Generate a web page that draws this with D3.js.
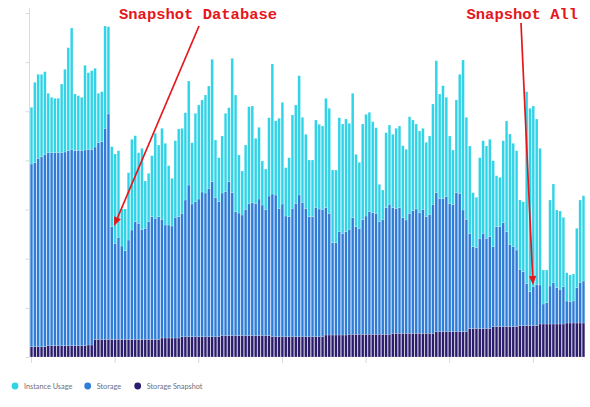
<!DOCTYPE html>
<html>
<head>
<meta charset="utf-8">
<script src="https://cdn.jsdelivr.net/npm/d3@7"></script>
<style>
  body { margin: 0; background: #fff; }
  svg { display: block; }
</style>
</head>
<body>
<svg id="chart" width="590" height="407"></svg>
<script>
// Daily cost, three stacked components (units are the chart's own, 7 gridline steps)
const snapshot = [
  10.3, 10.3, 10.3, 10.3, 10.3, 11.3, 11.3, 11.3, 11.3, 11.3,
  11.3, 11.3, 11.3, 11.3, 11.3, 11.3, 11.3, 12, 12, 17.6,
  17.6, 17.6, 17.6, 17.6, 17.6, 17.6, 17.6, 17.6, 17.6, 17.6,
  17.6, 17.6, 17.6, 17.6, 17.6, 17.6, 17.6, 17.6, 17.6, 19,
  19, 19, 19, 19, 19, 20.3, 20.3, 20.3, 20.3, 20.3,
  20.3, 20.3, 20.3, 20.3, 20.3, 20.3, 20.3, 21.5, 21.5, 21.5,
  21.5, 21.5, 21.5, 21.5, 21.5, 21.5, 21.5, 21.5, 21.5, 21.5,
  21.5, 21.5, 20.3, 20.3, 20.3, 20.3, 20.3, 20.3, 20.3, 20.3,
  20.3, 20.3, 20.3, 20.3, 20.3, 20.3, 20.3, 20.3, 22, 22,
  22, 22, 22, 22, 22, 22.7, 22.7, 22.7, 22.7, 22.7,
  22.7, 22.7, 22.7, 22.7, 22.7, 22.7, 22.7, 22.7, 23.7, 23.7,
  23.7, 23.7, 23.7, 23.7, 23.7, 23.7, 23.7, 23.7, 23.7, 23.7,
  23.7, 25.3, 25.3, 25.3, 25.3, 25.3, 25.3, 25.3, 25.3, 25.3,
  25.3, 28.5, 28.5, 28.5, 28.5, 28.5, 28.5, 28.5, 30.5, 30.5,
  30.5, 30.5, 30.5, 30.5, 30.5, 30.5, 31.5, 31.5, 31.5, 31.5,
  31.5, 31.5, 33, 33, 33, 33, 33, 33, 33, 33,
  34, 34, 34, 34, 34, 34
];

const storage = [
  182.7, 184, 188.4, 190, 192.4, 193, 193, 193, 193, 193,
  193.7, 195, 196.4, 195, 195.4, 195.4, 195.7, 195.3, 195.7, 192.4,
  196.7, 197.7, 211.1, 225.4, 112.7, 96.1, 102.1, 93.4, 88.7, 99.4,
  109.4, 117.7, 116.1, 110.1, 111.1, 117.7, 122.7, 121.1, 122.7, 118.7,
  113, 113, 112, 120.7, 121.3, 123.4, 136.7, 151.7, 132.7, 135,
  137.7, 144.7, 143.7, 148.4, 155, 139.4, 135, 142.5, 143.8, 153.8,
  142.8, 123.8, 122.5, 120.5, 126.2, 132.2, 132.8, 132.2, 136.5, 130.5,
  126.2, 139.5, 142.7, 141.7, 128.4, 132.7, 120.7, 120, 128.4, 133.4,
  141.7, 134, 128.4, 120, 120, 129.4, 127.7, 127.4, 127.3, 121.7,
  92.3, 92.3, 103.3, 101.7, 103.3, 105, 116.6, 107.6, 106, 115,
  118.3, 122.6, 121.6, 121, 112.6, 115, 126.6, 130, 125.6, 125,
  125.6, 115.6, 113.3, 120, 122.6, 124.3, 120.6, 124, 116.6, 119,
  129, 139, 133.4, 133.4, 135, 128.4, 127.4, 139, 138.4, 121.7,
  112.4, 95.2, 81.8, 80.8, 90.2, 95.2, 90.2, 91.8, 79.8, 99.8,
  99.8, 103.8, 94.8, 82.2, 79.8, 76.5, 56.2, 53.8, 42.2, 33.8,
  38.8, 41.2, 39, 20, 21.3, 38, 41.3, 36.3, 34.7, 37.3,
  22, 21.3, 22, 35.3, 40.7, 42
];

const instanceUsage = [
  56.7, 80.4, 84, 82.4, 82.6, 59.4, 55.4, 54.4, 54.4, 68.7,
  82.7, 103, 121.3, 56.7, 54.6, 53, 84.7, 77, 78.6, 78.7,
  49.4, 50, 102.3, 87.3, 80, 89.3, 86.6, 37, 41.7, 67.3,
  90.7, 86, 70.6, 81, 47.3, 48.4, 61, 85, 71.7, 91,
  81.7, 59.3, 47.7, 76.6, 87.7, 85, 87.3, 104, 61.3, 88.4,
  94, 92, 98, 102.3, 122.4, 57.3, 44, 57, 78.4, 74,
  134.4, 116.7, 58, 44, 64.3, 96.6, 96.7, 65, 71.7, 44,
  40.3, 78.3, 130, 74.3, 90, 101.7, 48.3, 59, 93.3, 98.3,
  119.3, 85.4, 74, 56.7, 56.7, 87.3, 84.7, 83.3, 109.4, 105,
  72.7, 72.7, 114, 109.3, 112.7, 106, 124.4, 72.4, 66, 95.3,
  101.7, 99.4, 91, 85.6, 37.4, 29.3, 75, 79.3, 73.4, 80,
  81.7, 72, 70.7, 96.6, 90.7, 85, 81.7, 81, 74.4, 78.3,
  100.3, 132, 104.3, 112.6, 99.4, 67.3, 54.3, 92.7, 119, 150,
  102, 87.3, 54, 50.4, 80.6, 92.6, 92.3, 97.4, 86, 51,
  49.4, 82, 110.7, 110.3, 103.4, 99.3, 69.3, 70, 191.6, 183.4,
  180.7, 165.3, 136.7, 34, 32.7, 86, 98.7, 77.7, 78.3, 69.4,
  28.3, 26.7, 27, 59.4, 82.3, 85.3
];

const seriesKeys = ['snapshot', 'storage', 'instance'];
const seriesNames = ['Instance Usage', 'Storage', 'Storage Snapshot'];
const seriesColors = { instance: '#31d3e7', storage: '#2f7dd8', snapshot: '#2c1d6c' };
const yTicks = [0, 1, 2, 3, 4, 5, 6, 7];
const xTickEvery = 25;

// Build rows for d3.stack
const days = d3.range(snapshot.length);
const rows = days.map(i => ({
  day: i,
  snapshot: snapshot[i],
  storage: storage[i],
  instance: instanceUsage[i]
}));

const svg = d3.select('#chart');
const margin = { top: 13, right: 5, bottom: 50, left: 30 };
const width = 590;
const height = 407;

const x = d3.scaleBand()
  .domain(days)
  .range([margin.left, 585])
  .paddingInner(0.2)
  .paddingOuter(0.05);

// one gridline step is 49.14px, top step at y=13
const step = 344 / 7;
const y = d3.scaleLinear()
  .domain([0, 344])
  .range([357, 13]);

// Axes
const yAxis = svg.append('g')
  .attr('transform', `translate(${margin.left - 0.5},0)`)
  .call(d3.axisLeft(y).tickValues(yTicks.map(t => t * step)).tickSize(4).tickFormat(''));
yAxis.select('.domain').attr('stroke', '#d3dbe4').attr('d', 'M0,8V357');
yAxis.selectAll('.tick line').attr('stroke', '#d3dbe4');

const xAxis = svg.append('g')
  .attr('transform', 'translate(0,357)')
  .call(d3.axisBottom(x).tickValues(days.filter(d => d % xTickEvery === 0)).tickSize(6).tickFormat(''));
xAxis.select('.domain').remove();
xAxis.selectAll('.tick line').attr('stroke', '#d3dbe4');

// Stacked bars
const stacked = d3.stack().keys(seriesKeys)(rows);

svg.append('g')
  .selectAll('g')
  .data(stacked)
  .join('g')
  .attr('fill', d => seriesColors[d.key])
  .selectAll('rect')
  .data(d => d)
  .join('rect')
  .attr('x', d => x(d.data.day))
  .attr('width', x.bandwidth())
  .attr('y', d => y(d[1]))
  .attr('height', d => y(d[0]) - y(d[1]))
  .attr('stroke', '#ffffff')
  .attr('stroke-opacity', 0.55)
  .attr('stroke-width', 0.35);

// Annotations
const red = '#e5161c';
const notes = [
  { text: 'Snapshot Database', tx: 119, ty: 19, from: [199, 26], to: [114, 226] },
  { text: 'Snapshot All', tx: 466.5, ty: 19, from: [521, 23], to: [533, 285] }
];

const ann = svg.append('g');
notes.forEach(n => {
  ann.append('text')
    .attr('x', n.tx)
    .attr('y', n.ty)
    .attr('fill', red)
    .attr('font-family', '"Liberation Mono", "DejaVu Sans Mono", monospace')
    .attr('font-weight', 'bold')
    .attr('font-size', '15.5px')
    .text(n.text);

  const [x1, y1] = n.from;
  const [x2, y2] = n.to;
  const ang = Math.atan2(y2 - y1, x2 - x1);
  const headLen = 9, headW = 3.6;
  const bx = x2 - headLen * Math.cos(ang);
  const by = y2 - headLen * Math.sin(ang);

  ann.append('line')
    .attr('x1', x1).attr('y1', y1)
    .attr('x2', bx).attr('y2', by)
    .attr('stroke', red)
    .attr('stroke-width', 1.7);

  ann.append('path')
    .attr('fill', red)
    .attr('d', `M${x2},${y2}` +
      `L${bx + headW * Math.sin(ang)},${by - headW * Math.cos(ang)}` +
      `L${bx - headW * Math.sin(ang)},${by + headW * Math.cos(ang)}Z`);
});

// Legend
const legendX = [15, 87.7, 137.7];
const legendKeys = ['instance', 'storage', 'snapshot'];
const legend = svg.append('g').attr('transform', 'translate(0,386)');

legendKeys.forEach((k, i) => {
  legend.append('circle')
    .attr('cx', legendX[i])
    .attr('cy', 0)
    .attr('r', 3.4)
    .attr('fill', seriesColors[k]);
  legend.append('text')
    .attr('x', legendX[i] + 9)
    .attr('y', 2.6)
    .attr('fill', '#6b6f80')
    .attr('font-family', 'Lato, "Open Sans", sans-serif')
    .attr('font-size', '7.3px')
    .text(seriesNames[i]);
});
</script>
</body>
</html>
